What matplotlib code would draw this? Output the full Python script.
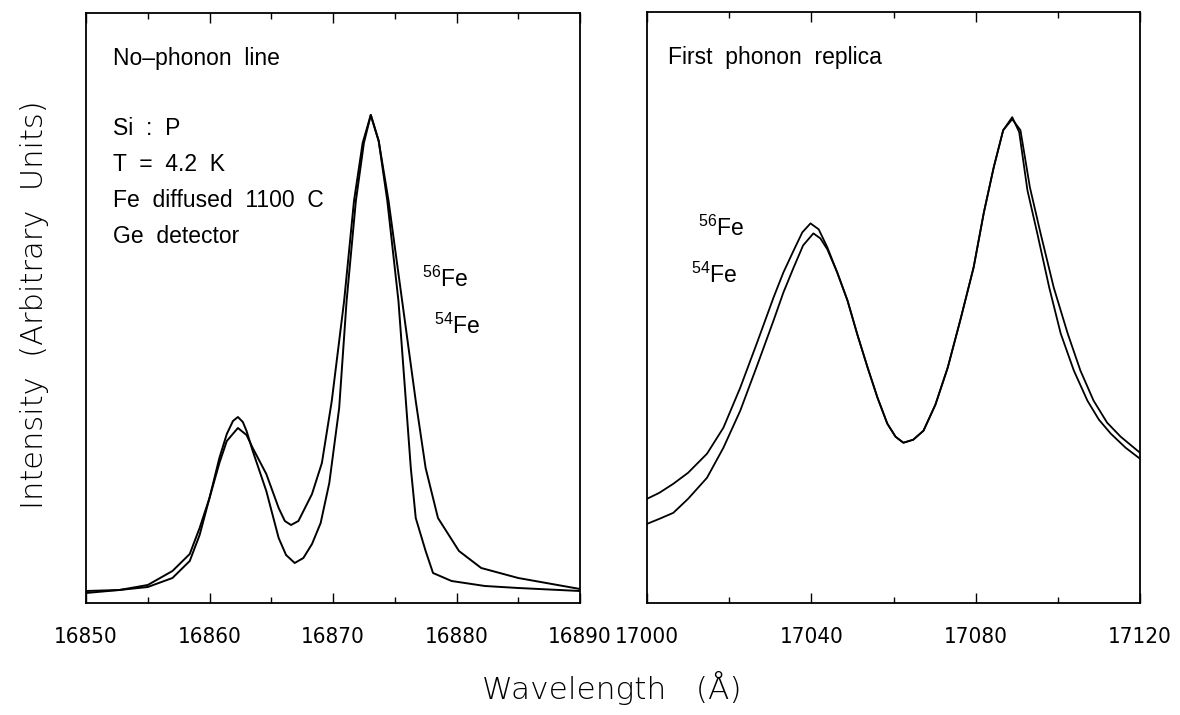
import numpy as np
import matplotlib
matplotlib.use('Agg')
import matplotlib.pyplot as plt
from matplotlib import font_manager
from matplotlib.ticker import MultipleLocator

# no-phonon line (arbitrary units)
wl_np_a = [16850, 16852.7, 16855, 16857, 16858.4, 16859.2, 16860, 16860.8, 16861.4, 16861.9, 16862.3,
           16862.7, 16863, 16863.5, 16864.6, 16865.6, 16866.2, 16866.9, 16867.6, 16868.3, 16869.0, 16869.7,
           16870.5, 16871.1, 16871.85, 16872.5, 16873.06, 16873.7, 16874.4, 16875.3, 16875.9, 16876.3,
           16876.7, 16877.5, 16878.1, 16879.6, 16882.3, 16885, 16890]
int_np_a = [10, 13, 16, 25, 42, 68, 105, 145, 169, 182, 186,
            181, 172, 152, 112, 65, 48, 40, 45, 59, 80, 120,
            195, 302, 402, 460, 488, 462, 402, 302, 202, 135,
            85, 52, 30, 22, 17, 15, 12]

wl_np_b = [16850, 16852.7, 16855, 16857, 16858.4, 16859.2, 16860, 16860.8, 16861.4, 16862.3,
           16863, 16863.5, 16864.6, 16865.6, 16866.1, 16866.6, 16867.2, 16868.3, 16869.1, 16869.9,
           16870.9, 16871.7, 16872.4, 16873.06, 16873.7, 16874.5, 16875.6, 16876.7, 16877.5, 16878.5,
           16880.2, 16882, 16885, 16890]
int_np_b = [12, 13, 18, 32, 49, 75, 105, 140, 162, 175,
            168, 155, 129, 95, 82, 78, 82, 109, 140, 202,
            302, 402, 460, 488, 462, 402, 302, 202, 135, 85,
            52, 35, 25, 14]

# first phonon replica
wl_rep_56 = [17000, 17003, 17006.4, 17010, 17014.6, 17018.6, 17022.7, 17026.8, 17030.8, 17033.2,
             17035.7, 17037.8, 17039.8, 17041.8, 17043.9, 17046.3, 17048.8, 17051.2, 17053.7, 17056.1,
             17058.5, 17060.5, 17062.4, 17064.8, 17067.3, 17070.2, 17073.2, 17076.3, 17079.5, 17082.0,
             17084.4, 17086.7, 17088.9, 17090.6, 17092.6, 17095.0, 17097.9, 17100.7, 17103.9, 17107.2,
             17110, 17112.9, 17116.5, 17120]
int_rep_56 = [104, 110, 119, 130, 149, 175, 215, 260, 305, 330,
              352, 370, 379, 373, 355, 330, 302, 268, 235, 205,
              179, 166, 160, 163, 172, 198, 235, 283, 335, 390,
              435, 472, 485, 470, 412, 369, 315, 269, 232, 202,
              183, 169, 155, 144]

wl_rep_54 = [17000, 17003, 17006.4, 17010, 17014.6, 17018.6, 17022.7, 17026.8, 17030.8, 17033.2,
             17035.7, 17038, 17040.5, 17042.2, 17043.9, 17046.3, 17048.8, 17051.2, 17053.7, 17056.1,
             17058.5, 17060.5, 17062.4, 17064.8, 17067.3, 17070.2, 17073.2, 17076.3, 17079.5, 17082.0,
             17084.4, 17086.7, 17088.9, 17090.9, 17093.2, 17095.8, 17099, 17102.4, 17105.5, 17108.7,
             17112, 17115.3, 17120]
int_rep_54 = [79, 84, 90, 104, 125, 155, 192, 237, 282, 310,
              335, 357, 369, 364, 353, 330, 302, 268, 235, 205,
              179, 166, 160, 163, 172, 198, 235, 283, 335, 390,
              435, 472, 483, 472, 415, 369, 315, 269, 232, 202,
              180, 166, 150]

names = {f.name for f in font_manager.fontManager.ttflist}
if 'Liberation Sans Narrow' in names:
    tick_kw = dict(family='Liberation Sans Narrow')
else:
    tick_kw = dict(family='DejaVu Sans', stretch='condensed', weight='light')
text_font = 'Liberation Sans'

fig = plt.figure(figsize=(11.8, 7.15), dpi=100)
ax1 = fig.add_axes([86/1180, 112/715, 494/1180, 590/715])
ax2 = fig.add_axes([647/1180, 112/715, 493/1180, 591/715])

ax1.plot(wl_np_a, int_np_a, color='black', lw=1.4)
ax1.plot(wl_np_b, int_np_b, color='black', lw=1.4)
ax2.plot(wl_rep_56, int_rep_56, color='black', lw=1.3)
ax2.plot(wl_rep_54, int_rep_54, color='black', lw=1.3)

ax1.set_xlim(16850, 16890)
ax2.set_xlim(17000, 17120)
for ax, major, minor in [(ax1, 10, 5), (ax2, 40, 20)]:
    ax.set_ylim(0, 590)
    ax.set_yticks([])
    ax.xaxis.set_major_locator(MultipleLocator(major))
    ax.xaxis.set_minor_locator(MultipleLocator(minor))
    ax.tick_params(axis='x', which='both', direction='in', top=True, bottom=True,
                   width=1.0, labelsize=16, pad=17)
    ax.tick_params(axis='x', which='major', length=7)
    ax.tick_params(axis='x', which='minor', length=4)
    for lbl in ax.get_xticklabels():
        lbl.update(tick_kw)
    for s in ax.spines.values():
        s.set_linewidth(1.3)

# annotations, left panel
kw = dict(family=text_font, fontsize=16.5, color='black', va='center', ha='left')
ax1.text(0.055, 602 - 58, 'No\u2013phonon  line', transform=ax1.get_yaxis_transform(), **kw)
for i, s in enumerate(['Si  :  P', 'T  =  4.2  K', 'Fe  diffused  1100  C', 'Ge  detector']):
    ax1.text(0.055, 602 - 128 - 36 * i, s, transform=ax1.get_yaxis_transform(), **kw)
ax1.text(16877.2, 602 - 278, r'$\mathregular{^{56}Fe}$', **kw)
ax1.text(16878.2, 602 - 325, r'$\mathregular{^{54}Fe}$', **kw)

# annotations, right panel
ax2.text(0.043, 602 - 57, 'First  phonon  replica', transform=ax2.get_yaxis_transform(), **kw)
ax2.text(17012.3, 602 - 228, r'$\mathregular{^{56}Fe}$', **kw)
ax2.text(17010.8, 602 - 275, r'$\mathregular{^{54}Fe}$', **kw)

fig.text(35/1180, 1 - 305/715, 'Intensity  (Arbitrary  Units)', rotation=90,
         ha='center', va='center', fontsize=22, family='DejaVu Sans', fontweight='light')
fig.text(612/1180, 1 - 688/715, 'Wavelength   (\u00c5)', ha='center', va='center',
         fontsize=22.5, family='DejaVu Sans', fontweight='light')

fig.savefig('out.png', dpi=100)
